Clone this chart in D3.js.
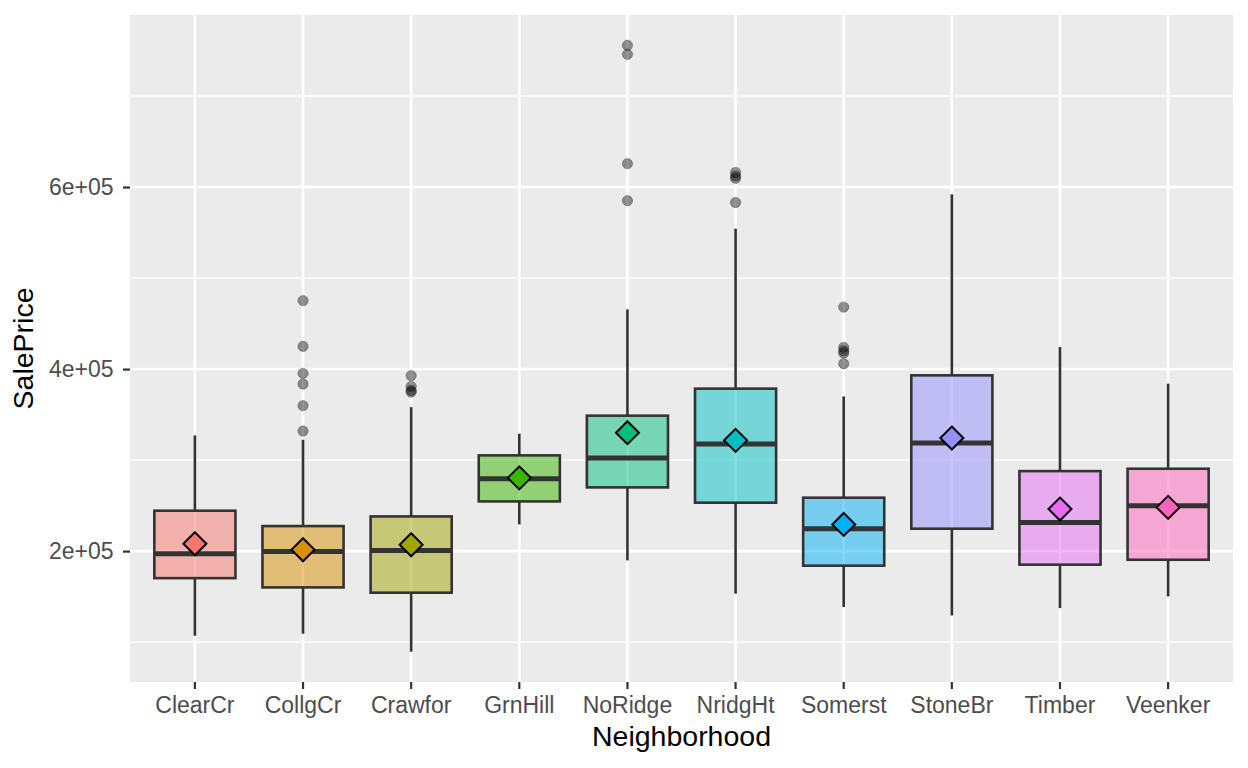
<!DOCTYPE html>
<html>
<head>
<meta charset="utf-8">
<script src="https://cdn.jsdelivr.net/npm/d3@7"></script>
<style>
  body { margin: 0; background: #fff; }
  text { font-family: "Liberation Sans", Arial, sans-serif; }
</style>
</head>
<body>
<div id="chart-area"></div>
<script>
const WIDTH = 1248;
const HEIGHT = 768;

// data
const neighborhoods = ["ClearCr", "CollgCr", "Crawfor", "GrnHill", "NoRidge", "NridgHt", "Somerst", "StoneBr", "Timber", "Veenker"];
const colors = ["#F8766D", "#D89000", "#A3A500", "#39B600", "#00BF7D", "#00BFC4", "#00B0F6", "#9590FF", "#E76BF3", "#FF62BC"];
const whiskerLow = [107000, 109200, 89500, 229300, 189800, 153200, 138500, 129300, 137400, 150200];
const q1 = [170300, 160100, 154300, 254600, 270000, 253200, 184000, 224600, 185100, 190500];
const median = [197100, 199700, 200800, 279600, 302200, 317600, 224600, 318700, 231500, 249900];
const q3 = [244400, 227500, 238100, 305200, 348800, 378500, 258700, 393100, 287900, 290500];
const whiskerHigh = [327100, 322400, 358200, 329000, 465600, 554300, 370000, 592000, 424200, 384000];
const means = [208100, 201500, 207000, 280500, 330100, 321700, 229300, 324200, 246200, 248000];
const outliers = [
  [],
  [475200, 425000, 395300, 383600, 359800, 331900],
  [392800, 381000, 376600, 374800],
  [],
  [755700, 745800, 625700, 585000],
  [616000, 612000, 609500, 583000],
  [468100, 423800, 420000, 417500, 405900],
  [],
  [],
  []
];
const yTicks = [200000, 400000, 600000];
const yMinor = [100000, 300000, 500000, 700000];

const svg = d3.select("#chart-area").append("svg")
  .attr("width", WIDTH)
  .attr("height", HEIGHT);

svg.append("rect").attr("width", WIDTH).attr("height", HEIGHT).attr("fill", "#fff");

const margin = {top: 15, right: 15, bottom: 86, left: 130};
const graphWidth = WIDTH - margin.left - margin.right;
const graphHeight = HEIGHT - margin.top - margin.bottom;

const graph = svg.append("g")
  .attr("transform", `translate(${margin.left}, ${margin.top})`);

// scales; ggplot style expansion
const x = d3.scaleBand()
  .domain(neighborhoods)
  .range([0, graphWidth])
  .paddingInner(0)
  .paddingOuter(0.1);

const allVals = whiskerLow.concat(whiskerHigh, outliers.flat());
const lo = d3.min(allVals), hi = d3.max(allVals);
const pad = (hi - lo) * 0.05;
const y = d3.scaleLinear()
  .domain([lo - pad, hi + pad])
  .range([graphHeight, 0]);

const cx = d => x(d) + x.bandwidth() / 2;
const boxW = x.bandwidth() * 0.75;

// panel
graph.append("rect")
  .attr("width", graphWidth)
  .attr("height", graphHeight)
  .attr("fill", "#EBEBEB");

// grid
graph.selectAll(".minor").data(yMinor).enter().append("line")
  .attr("x1", 0).attr("x2", graphWidth)
  .attr("y1", d => y(d)).attr("y2", d => y(d))
  .attr("stroke", "#fff").attr("stroke-width", 1.3);

graph.selectAll(".major-y").data(yTicks).enter().append("line")
  .attr("x1", 0).attr("x2", graphWidth)
  .attr("y1", d => y(d)).attr("y2", d => y(d))
  .attr("stroke", "#fff").attr("stroke-width", 2.6);

graph.selectAll(".major-x").data(neighborhoods).enter().append("line")
  .attr("x1", d => cx(d)).attr("x2", d => cx(d))
  .attr("y1", 0).attr("y2", graphHeight)
  .attr("stroke", "#fff").attr("stroke-width", 2.6);

// boxes
const boxes = graph.selectAll(".box").data(neighborhoods).enter().append("g");

boxes.append("line")
  .attr("x1", d => cx(d)).attr("x2", d => cx(d))
  .attr("y1", (d, i) => y(whiskerHigh[i])).attr("y2", (d, i) => y(q3[i]))
  .attr("stroke", "#333").attr("stroke-width", 2.6);

boxes.append("line")
  .attr("x1", d => cx(d)).attr("x2", d => cx(d))
  .attr("y1", (d, i) => y(q1[i])).attr("y2", (d, i) => y(whiskerLow[i]))
  .attr("stroke", "#333").attr("stroke-width", 2.6);

boxes.append("rect")
  .attr("x", d => cx(d) - boxW / 2)
  .attr("width", boxW)
  .attr("y", (d, i) => y(q3[i]))
  .attr("height", (d, i) => y(q1[i]) - y(q3[i]))
  .attr("fill", (d, i) => colors[i])
  .attr("fill-opacity", 0.5)
  .attr("stroke", "#333")
  .attr("stroke-width", 2.6);

boxes.append("line")
  .attr("x1", d => cx(d) - boxW / 2).attr("x2", d => cx(d) + boxW / 2)
  .attr("y1", (d, i) => y(median[i])).attr("y2", (d, i) => y(median[i]))
  .attr("stroke", "#333").attr("stroke-width", 5);

// outliers
neighborhoods.forEach((n, i) => {
  graph.selectAll(".out-" + i).data(outliers[i]).enter().append("circle")
    .attr("cx", cx(n))
    .attr("cy", d => y(d))
    .attr("r", 5.2)
    .attr("fill", "#000")
    .attr("fill-opacity", 0.42)
    .attr("stroke", "#000")
    .attr("stroke-opacity", 0.25)
    .attr("stroke-width", 1);
});

// means
const dr = 11.5;
graph.selectAll(".mean").data(neighborhoods).enter().append("path")
  .attr("d", (d, i) => {
    const px = cx(d), py = y(means[i]);
    return `M${px},${py - dr}L${px + dr},${py}L${px},${py + dr}L${px - dr},${py}Z`;
  })
  .attr("fill", (d, i) => colors[i])
  .attr("stroke", "#000")
  .attr("stroke-width", 2);

// axes
const xAxisGroup = graph.append("g")
  .attr("transform", `translate(0, ${graphHeight})`)
  .call(d3.axisBottom(x).tickSize(7).tickPadding(5));

const yAxisGroup = graph.append("g")
  .call(d3.axisLeft(y).tickValues(yTicks).tickSize(7).tickPadding(9.5)
    .tickFormat(d => (d / 100000) + "e+05"));

[xAxisGroup, yAxisGroup].forEach(g => {
  g.select(".domain").remove();
  g.selectAll(".tick line").attr("stroke", "#333").attr("stroke-width", 2.2);
  g.selectAll(".tick text")
    .attr("fill", "#4D4D4D")
    .attr("font-size", "23px")
    .attr("font-family", "'Liberation Sans', Arial, sans-serif");
});
xAxisGroup.selectAll(".tick text").attr("y", 30.5).attr("dy", null);

// labels
graph.append("text")
  .attr("x", graphWidth / 2)
  .attr("y", graphHeight + 64)
  .attr("font-size", "28.5px")
  .attr("text-anchor", "middle")
  .attr("fill", "#000")
  .text("Neighborhood");

graph.append("text")
  .attr("x", -(graphHeight / 2))
  .attr("y", -97)
  .attr("font-size", "28.5px")
  .attr("text-anchor", "middle")
  .attr("transform", "rotate(-90)")
  .attr("fill", "#000")
  .text("SalePrice");
</script>
</body>
</html>
